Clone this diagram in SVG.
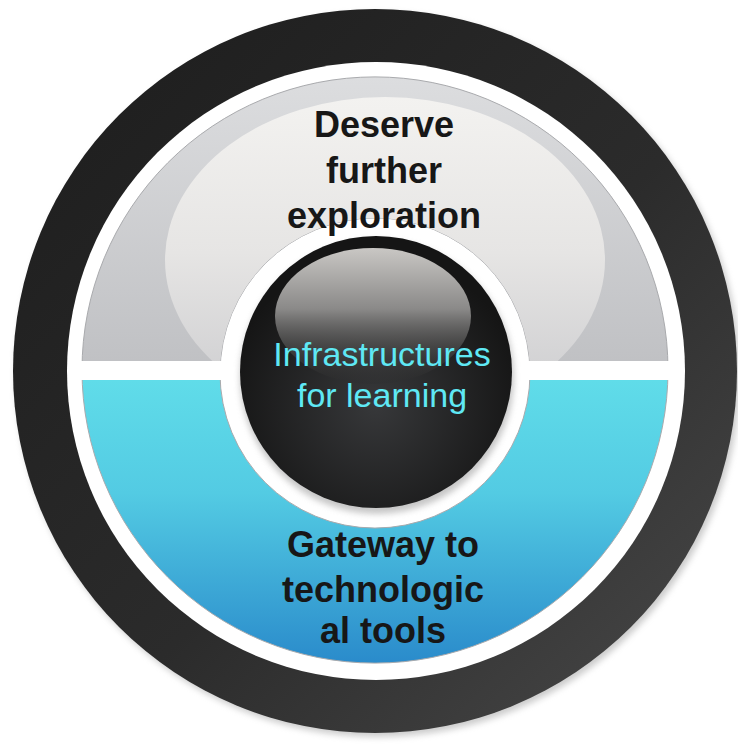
<svg xmlns="http://www.w3.org/2000/svg" width="738" height="744" viewBox="0 0 738 744">
  <style>
    .lbl { font-family: "Liberation Sans", Arial, sans-serif; font-weight: bold; font-size: 36px; fill: #171717; text-anchor: middle; }
    .ctr { font-family: "Liberation Sans", Arial, sans-serif; font-size: 34px; fill: #5fe8f4; text-anchor: middle; }
    .seg { stroke: #a9aaad; stroke-width: 1; fill-rule: evenodd; }
  </style>
  <defs>
    <linearGradient id="ringGrad" x1="0" y1="0" x2="1" y2="1">
      <stop offset="0" stop-color="#1c1c1c"/>
      <stop offset="0.55" stop-color="#2b2b2b"/>
      <stop offset="1" stop-color="#4a4a4a"/>
    </linearGradient>
    <linearGradient id="grayGrad" gradientUnits="userSpaceOnUse" x1="0" y1="77" x2="0" y2="361">
      <stop offset="0" stop-color="#dcdddf"/>
      <stop offset="1" stop-color="#c0c1c4"/>
    </linearGradient>
    <linearGradient id="hiGrad" gradientUnits="userSpaceOnUse" x1="0" y1="97" x2="0" y2="380">
      <stop offset="0" stop-color="#f3f2f0"/>
      <stop offset="0.55" stop-color="#e6e5e4"/>
      <stop offset="1" stop-color="#d0d0d2"/>
    </linearGradient>
    <linearGradient id="cyanGrad" gradientUnits="userSpaceOnUse" x1="0" y1="380" x2="0" y2="663">
      <stop offset="0" stop-color="#60dce9"/>
      <stop offset="0.4" stop-color="#53cbe3"/>
      <stop offset="1" stop-color="#2a8bcb"/>
    </linearGradient>
    <radialGradient id="blackGrad" cx="0.5" cy="0.62" r="0.55">
      <stop offset="0" stop-color="#37383a"/>
      <stop offset="1" stop-color="#151515"/>
    </radialGradient>
    <linearGradient id="glossGrad" x1="0" y1="0" x2="0" y2="1">
      <stop offset="0" stop-color="#c9c7c4"/>
      <stop offset="0.45" stop-color="#8a8988"/>
      <stop offset="1" stop-color="#2a2a2a" stop-opacity="0.2"/>
    </linearGradient>
    <path id="annulus" d="M82,370 A293,293 0 1 1 668,370 A293,293 0 1 1 82,370 Z M220,373 A155,155 0 1 0 530,373 A155,155 0 1 0 220,373 Z"/>
    <clipPath id="topClip"><rect x="0" y="0" width="738" height="361"/></clipPath>
    <clipPath id="botClip"><rect x="0" y="380" width="738" height="364"/></clipPath>
    <clipPath id="annClip"><use href="#annulus" clip-rule="evenodd"/></clipPath>
    <filter id="shadow" x="-10%" y="-10%" width="120%" height="120%">
      <feGaussianBlur stdDeviation="3"/>
    </filter>
  </defs>

  <rect x="0" y="0" width="738" height="744" fill="#ffffff"/>

  <g id="outer-ring">
    <circle cx="378" cy="375" r="362" fill="#9a9a9a" opacity="0.5" filter="url(#shadow)"/>
    <circle cx="375" cy="371" r="362" fill="url(#ringGrad)"/>
    <circle cx="376" cy="371" r="309" fill="#ffffff"/>
  </g>

  <g id="segment-top">
    <g clip-path="url(#topClip)">
      <use href="#annulus" class="seg" fill="url(#grayGrad)"/>
      <g clip-path="url(#annClip)">
        <ellipse cx="385" cy="260" rx="220" ry="163" fill="url(#hiGrad)"/>
      </g>
    </g>
    <text class="lbl" x="384" y="137">Deserve</text>
    <text class="lbl" x="384" y="183">further</text>
    <text class="lbl" x="384" y="228">exploration</text>
  </g>

  <g id="segment-bottom">
    <g clip-path="url(#botClip)">
      <use href="#annulus" class="seg" fill="url(#cyanGrad)"/>
    </g>
    <text class="lbl" x="383" y="557">Gateway to</text>
    <text class="lbl" x="383" y="602">technologic</text>
    <text class="lbl" x="383" y="643">al tools</text>
  </g>

  <g id="center">
    <circle cx="377" cy="377" r="137" fill="#a0a0a0" opacity="0.6" filter="url(#shadow)"/>
    <circle cx="376" cy="372" r="136" fill="url(#blackGrad)"/>
    <ellipse cx="373" cy="316" rx="98" ry="68" fill="url(#glossGrad)"/>
    <text class="ctr" x="382" y="366">Infrastructures</text>
    <text class="ctr" x="382" y="407">for learning</text>
  </g>

  <g id="connectors"/>
</svg>
